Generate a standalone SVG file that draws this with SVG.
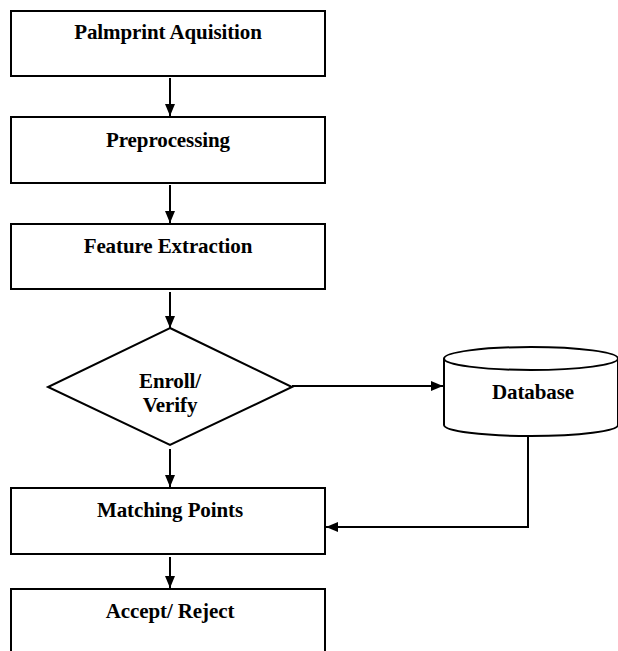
<svg xmlns="http://www.w3.org/2000/svg" width="618" height="651" viewBox="0 0 618 651">
<style>
.box{fill:#fff;stroke:#000;stroke-width:2}
.lbl{font-family:'Liberation Serif','Times New Roman',serif;font-weight:bold;font-size:21px;fill:#000;text-anchor:middle;letter-spacing:-0.1px}
.conn{fill:none;stroke:#000;stroke-width:2}
</style>
<defs>
<marker id="ah2" viewBox="0 0 12 10" refX="12" refY="5" markerWidth="12" markerHeight="10" orient="auto" markerUnits="userSpaceOnUse">
<path d="M0,0 L12,5 L0,10 z" fill="#000"/>
</marker>
</defs>
<rect width="618" height="651" fill="#fff"/>
<g id="acquisition"><rect class="box" x="11" y="11" width="314" height="65"/><text class="lbl" x="168" y="39">Palmprint Aquisition</text></g>
<g id="preprocessing"><rect class="box" x="11" y="117" width="314" height="66"/><text class="lbl" x="168" y="147">Preprocessing</text></g>
<g id="feature"><rect class="box" x="11" y="224" width="314" height="65"/><text class="lbl" x="168" y="253">Feature Extraction</text></g>
<g id="decision"><polygon class="box" points="170,328 292,387 170,445 48,387"/><text class="lbl" x="170" y="388">Enroll/</text><text class="lbl" x="170" y="412">Verify</text></g>
<g id="database"><path class="box" d="M444,358.5 L444,425 A87,11 0 0 0 618,425 L618,358.5"/><ellipse class="box" cx="531" cy="358.5" rx="87" ry="11.5"/><text class="lbl" x="533" y="399">Database</text></g>
<g id="matching"><rect class="box" x="11" y="488" width="314" height="66"/><text class="lbl" x="170" y="517">Matching Points</text></g>
<g id="decide"><rect class="box" x="11" y="589" width="314" height="80"/><text class="lbl" x="170" y="618">Accept/ Reject</text></g>
<g id="connectors">
<line class="conn" x1="170" y1="78" x2="170" y2="116" marker-end="url(#ah2)"/>
<line class="conn" x1="170" y1="185" x2="170" y2="223" marker-end="url(#ah2)"/>
<line class="conn" x1="170" y1="292" x2="170" y2="328" marker-end="url(#ah2)"/>
<line class="conn" x1="292" y1="386" x2="443" y2="386" marker-end="url(#ah2)"/>
<line class="conn" x1="170" y1="449" x2="170" y2="487" marker-end="url(#ah2)"/>
<polyline class="conn" points="528,436 528,527 326,527" marker-end="url(#ah2)"/>
<line class="conn" x1="170" y1="557" x2="170" y2="588" marker-end="url(#ah2)"/>
</g>
</svg>
